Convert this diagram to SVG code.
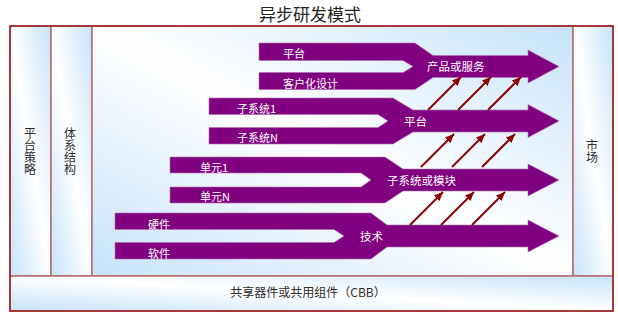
<svg xmlns="http://www.w3.org/2000/svg" width="618" height="319" viewBox="0 0 618 319">
<defs>
<linearGradient id="panelGrad" x1="0" y1="1" x2="1" y2="0">
<stop offset="0" stop-color="#c6e3f9"/>
<stop offset="0.5" stop-color="#ffffff"/>
<stop offset="1" stop-color="#c6e3f9"/>
</linearGradient>
<marker id="redHead" markerUnits="userSpaceOnUse" markerWidth="10" markerHeight="10" viewBox="0 0 10 10" refX="9" refY="5" orient="auto">
<path d="M0,1 L9,5 L0,9 Z" fill="#8b0000"/>
</marker>
<style>
.panel{fill:url(#panelGrad);stroke:#b86c6c;stroke-width:1.5}
.lbl{font-family:"Noto Sans CJK SC","Noto Sans",sans-serif;font-size:12px;fill:#2b2b2b}
.vt{font-family:"Noto Sans CJK SC","Noto Sans",sans-serif;font-size:12px;fill:#2b2b2b;writing-mode:vertical-rl;text-orientation:upright;letter-spacing:0.2px}
.band{fill:#800080;stroke:#b070b0;stroke-width:0.6}
.wt{font-family:"Noto Sans CJK SC","Noto Sans",sans-serif;font-size:11px;fill:#ffffff}
.wt2{font-family:"Noto Sans CJK SC","Noto Sans",sans-serif;font-size:11.5px;fill:#ffffff}
.red{stroke:#8b0000;stroke-width:2;fill:none;marker-end:url(#redHead)}
</style>
</defs>
<rect width="618" height="319" fill="#ffffff"/>
<text x="310" y="21" text-anchor="middle" font-family="'Noto Sans CJK SC','Noto Sans',sans-serif" font-size="17" fill="#222222">异步研发模式</text>

<g id="strategy">
<rect class="panel" x="10" y="26" width="41" height="250"/>
<text class="vt" x="30" y="127">平台策略</text>
</g>
<g id="architecture">
<rect class="panel" x="51" y="26" width="41" height="250"/>
<text class="vt" x="70" y="127">体系结构</text>
</g>
<g id="main">
<rect class="panel" x="92" y="26" width="481" height="250"/>
</g>
<g id="market">
<rect class="panel" x="573" y="26" width="40" height="250"/>
<text class="vt" x="592" y="139">市场</text>
</g>
<g id="cbb">
<rect class="panel" x="10" y="276" width="603" height="35"/>
<text class="lbl" x="308" y="297" text-anchor="middle">共享器件或共用组件（CBB）</text>
</g>
<rect x="10" y="26" width="603" height="285" fill="none" stroke="#9b1c1c" stroke-width="1.5"/>

<g id="arrow-product">
<path class="band" d="M259,43 H415 L433,55.5 H528 V50 L559,66.5 L528,83 V77.5 H433 L415,89.5 H259 V72.5 H403 L413,66.5 L403,60.5 H259 Z"/>
<text class="wt" x="283" y="58">平台</text>
<text class="wt" x="283" y="88">客户化设计</text>
<text class="wt2" x="427" y="71">产品或服务</text>
</g>
<g id="arrow-platform">
<path class="band" d="M209,98 H393 L413,110 H528 V104.5 L559,121 L528,137.5 V132 H413 L393,144 H209 V127.5 H378 L388,121 L378,114.5 H209 Z"/>
<text class="wt" x="237" y="113">子系统1</text>
<text class="wt" x="237" y="142">子系统N</text>
<text class="wt2" x="404" y="126">平台</text>
</g>
<g id="arrow-module">
<path class="band" d="M170,157 H385 L403,169 H528 V164 L559,180 L528,196 V191 H403 L385,203 H170 V187 H361 L371,180 L361,173 H170 Z"/>
<text class="wt" x="200" y="172">单元1</text>
<text class="wt" x="200" y="201">单元N</text>
<text class="wt2" x="387" y="185">子系统或模块</text>
</g>
<g id="arrow-tech">
<path class="band" d="M115,213 H371 L387,225 H528 V220 L559,236 L528,252 V247 H387 L371,259 H115 V242.5 H334 L344,236 L334,229.5 H115 Z"/>
<text class="wt" x="148" y="229">硬件</text>
<text class="wt" x="148" y="258">软件</text>
<text class="wt2" x="360" y="241">技术</text>
</g>

<g id="connectors">
<line class="red" x1="428" y1="110" x2="461" y2="77"/>
<line class="red" x1="458" y1="110" x2="491" y2="77"/>
<line class="red" x1="488" y1="110" x2="521" y2="77"/>
<line class="red" x1="421" y1="167" x2="454" y2="134"/>
<line class="red" x1="452" y1="167" x2="485" y2="134"/>
<line class="red" x1="482" y1="167" x2="515" y2="134"/>
<line class="red" x1="410" y1="225" x2="443" y2="192"/>
<line class="red" x1="441" y1="225" x2="474" y2="192"/>
<line class="red" x1="472" y1="225" x2="505" y2="192"/>
</g>
</svg>
